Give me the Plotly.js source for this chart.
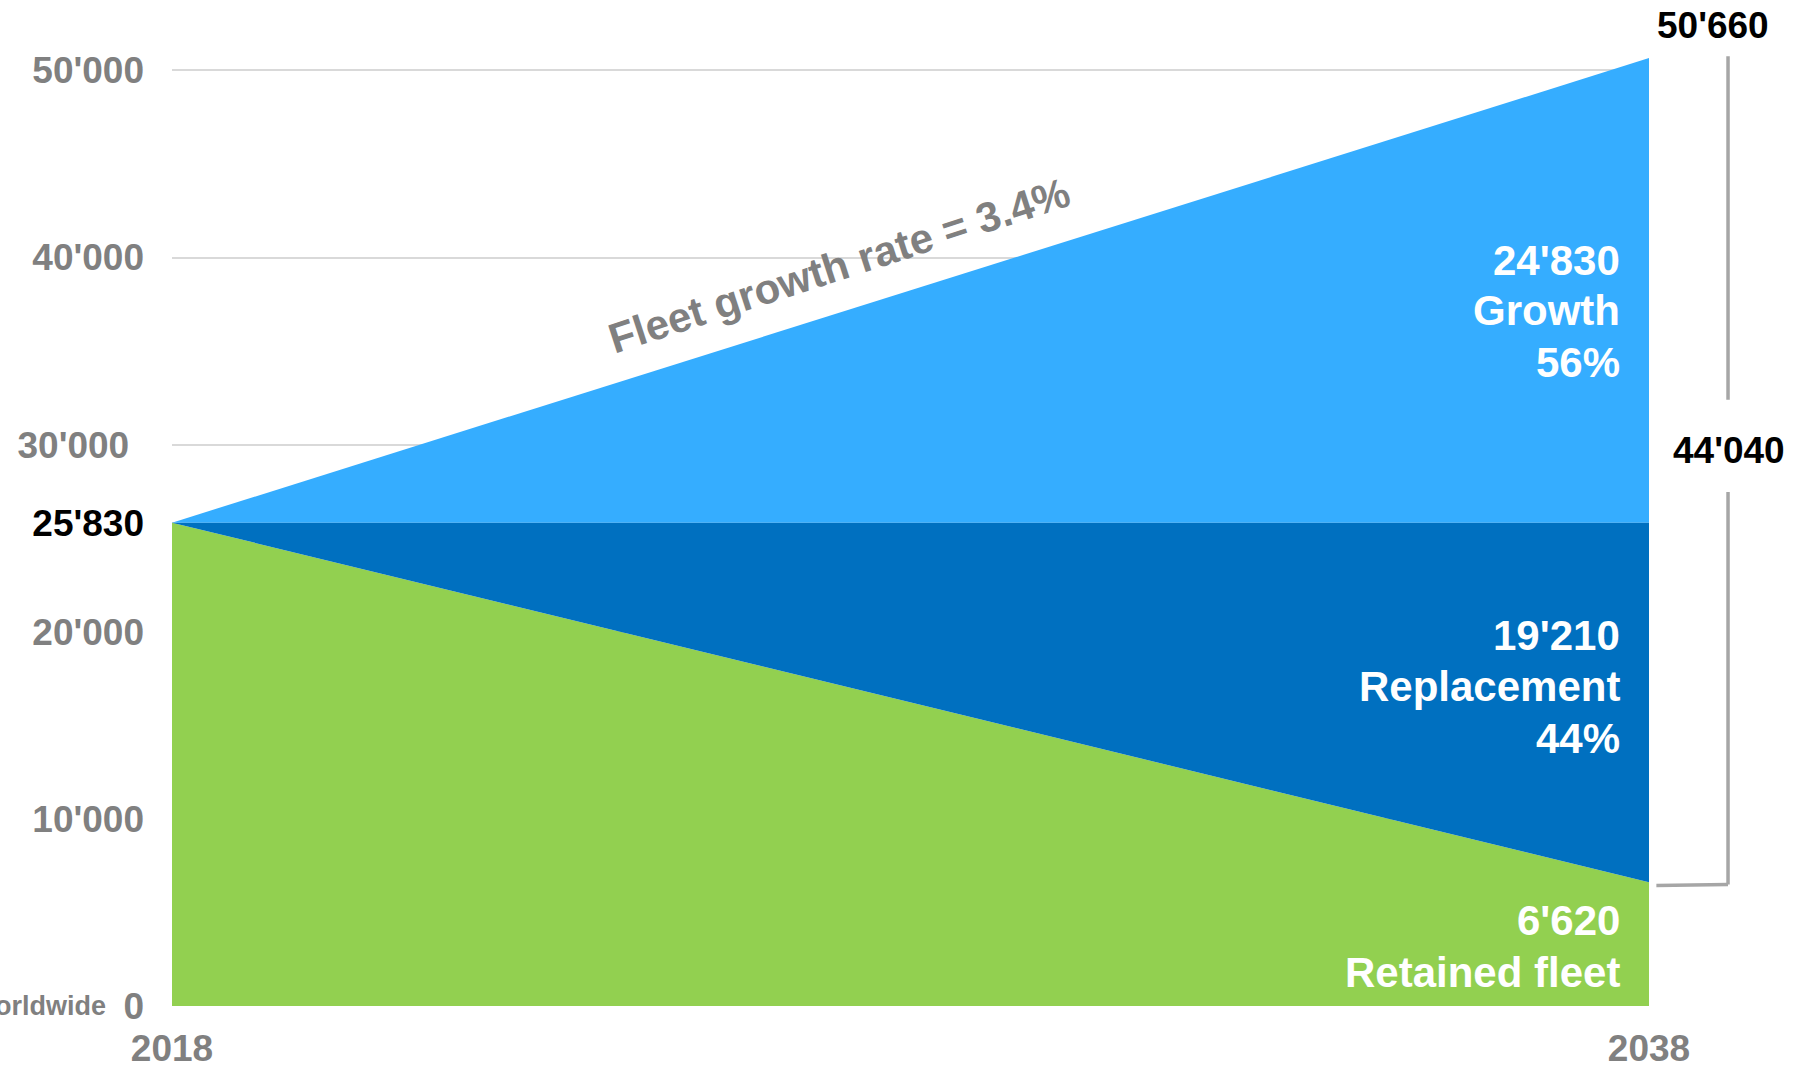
<!DOCTYPE html>
<html>
<head>
<meta charset="utf-8">
<script src="https://cdn.plot.ly/plotly-3.0.1.min.js"></script>
<style>html,body{margin:0;padding:0;background:#fff;overflow:hidden}#chart{width:1793px;height:1069px}</style>
</head>
<body>
<div id="chart"></div>
<script>
// ---- data ----
const years = [2018, 2038];
const retained = [25830, 6620];
const replacement = [0, 19210];
const growth = [0, 24830];
const yTickVals = [0, 10000, 20000, 25830, 30000, 40000, 50000];
const yTickText = ["0", "10'000", "20'000", "<span style=\"fill:#000000\">25'830</span>", "30'000\u2009\u2009", "40'000", "50'000"];
const xTickVals = [2018, 2038];
const xTickText = ["2018", "2038"];
const totalLabel = "50'660";
const bracketLabel = "44'040";
const growthLines = ["24'830", "Growth", "56%"];
const replLines = ["19'210", "Replacement", "44%"];
const retainedLines = ["6'620", "Retained fleet"];
const rateLabel = "Fleet growth rate = 3.4%";
const sideLabel = "worldwide";

const FONT = "Liberation Sans, Arial, sans-serif";
const GRAY = "#808080";

const total2038 = retained[1] + replacement[1] + growth[1];

const traces = [
  {x: years, y: retained, type: 'scatter', mode: 'lines', stackgroup: 'one', fill: 'tonexty',
   line: {width: 0}, fillcolor: '#92D050', hoverinfo: 'skip', showlegend: false},
  {x: years, y: replacement, type: 'scatter', mode: 'lines', stackgroup: 'one', fill: 'tonexty',
   line: {width: 0}, fillcolor: '#0070C0', hoverinfo: 'skip', showlegend: false},
  {x: years, y: growth, type: 'scatter', mode: 'lines', stackgroup: 'one', fill: 'tonexty',
   line: {width: 0}, fillcolor: '#35ADFF', hoverinfo: 'skip', showlegend: false}
];

const whiteFont = {family: FONT, size: 42, color: '#ffffff', weight: 'bold'};

// inside block labels, one annotation per line (line centres in data units)
const blockLines = [
  [growthLines, [39820, 37150, 34390]],
  [replLines, [19780, 17050, 14270]],
  [retainedLines, [4570, 1817]]
];
const annotations = [];
blockLines.forEach(([lines, ys]) => {
  lines.forEach((t, i) => {
    annotations.push({xref: 'x', yref: 'y', x: years[1], y: ys[i], xanchor: 'right', yanchor: 'middle',
      xshift: -27, text: t, showarrow: false, align: 'right', font: whiteFont});
  });
});
annotations.push(
  {xref: 'x', yref: 'y', x: 2027.03, y: 39600, xanchor: 'center', yanchor: 'middle',
   text: rateLabel, showarrow: false, textangle: -18,
   font: {family: FONT, size: 42, color: GRAY, weight: 'bold'}},
  {xref: 'paper', yref: 'paper', x: 1.0433, y: 1.008, xanchor: 'center', yanchor: 'middle',
   text: totalLabel, showarrow: false,
   font: {family: FONT, size: 37, color: '#000000', weight: 'bold'}},
  {xref: 'paper', yref: 'y', x: 1.0545, y: 29700, xanchor: 'center', yanchor: 'middle',
   text: bracketLabel, showarrow: false,
   font: {family: FONT, size: 37, color: '#000000', weight: 'bold'}},
  {xref: 'paper', yref: 'y', x: -0.0435, y: 0, xanchor: 'right', yanchor: 'middle',
   text: sideLabel, showarrow: false,
   font: {family: FONT, size: 27, color: GRAY, weight: 'bold'}}
);

const layout = {
  width: 1793, height: 1069,
  margin: {l: 172, r: 144, t: 33, b: 63},
  paper_bgcolor: '#ffffff', plot_bgcolor: '#ffffff',
  showlegend: false,
  xaxis: {
    range: [2018, 2038], tickvals: xTickVals, ticktext: xTickText,
    showgrid: false, zeroline: false, showline: false, ticks: '',
    ticklabelstandoff: 17,
    tickfont: {family: FONT, size: 37, color: GRAY, weight: 'bold'}
  },
  yaxis: {
    range: [0, 52000], tickvals: yTickVals, ticktext: yTickText,
    showgrid: true, gridcolor: '#d9d9d9', gridwidth: 2,
    zeroline: false, showline: false, ticks: '',
    ticklabelstandoff: 27,
    tickfont: {family: FONT, size: 37, color: GRAY, weight: 'bold'}
  },
  annotations: annotations,
  shapes: [
    {type: 'line', xref: 'paper', yref: 'y', x0: 1.0535, x1: 1.0535, y0: total2038 + 100, y1: 32400,
     line: {color: '#A6A6A6', width: 3.5}},
    {type: 'line', xref: 'paper', yref: 'y', x0: 1.0535, x1: 1.0535, y0: 27470, y1: retained[1] - 130,
     line: {color: '#A6A6A6', width: 3.5}},
    {type: 'line', xref: 'paper', yref: 'y', x0: 1.0535, x1: 1.005, y0: retained[1] - 130, y1: retained[1] - 180,
     line: {color: '#A6A6A6', width: 3.5}}
  ]
};

Plotly.newPlot('chart', traces, layout, {staticPlot: true, displayModeBar: false});
</script>
</body>
</html>
